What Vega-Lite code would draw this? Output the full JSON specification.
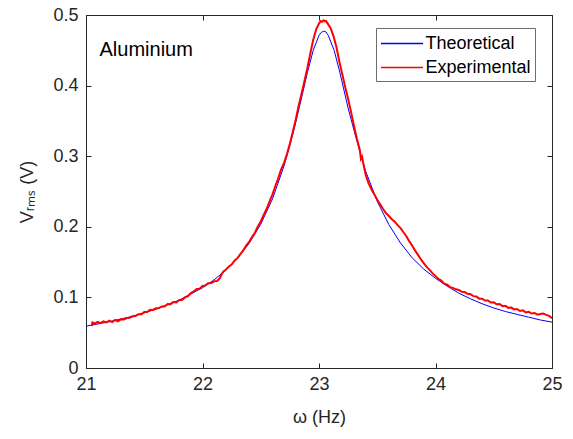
{
  "$schema": "https://vega.github.io/schema/vega-lite/v6.json",
  "width": 466,
  "height": 353,
  "autosize": {"type": "none"},
  "padding": {"left": 86, "top": 15, "right": 21, "bottom": 71},
  "background": "white",
  "config": {
    "view": {"stroke": "#262626", "strokeWidth": 1},
    "font": "Liberation Sans",
    "axis": {
      "grid": false,
      "domainColor": "#262626",
      "tickColor": "#262626",
      "labelColor": "#262626",
      "titleColor": "#262626",
      "labelFont": "Liberation Sans",
      "titleFont": "Liberation Sans",
      "labelFontSize": 18,
      "titleFontSize": 18,
      "titleFontWeight": "normal",
      "tickSize": -5,
      "domainWidth": 1,
      "tickWidth": 1,
      "labelFlush": false,
      "labelOverlap": false
    },
    "legend": {
      "orient": "none",
      "legendX": 290,
      "legendY": 13,
      "strokeColor": "#6e6e6e",
      "fillColor": "white",
      "padding": 4,
      "symbolType": "M-2,0H2",
      "symbolSize": 441,
      "symbolOffset": 10.5,
      "symbolStrokeWidth": 1.5,
      "labelFontSize": 18,
      "labelFont": "Liberation Sans",
      "labelColor": "#000000",
      "labelOffset": 12,
      "rowPadding": 3
    }
  },
  "datasets": {
    "theo": [
      {"f": 21.0, "v": 0.0592}, {"f": 21.2, "v": 0.0655}, {"f": 21.4, "v": 0.0733}, {"f": 21.6, "v": 0.0832},
      {"f": 21.8, "v": 0.0961}, {"f": 22.0, "v": 0.1136}, {"f": 22.1, "v": 0.1249}, {"f": 22.2, "v": 0.1386},
      {"f": 22.3, "v": 0.1554}, {"f": 22.4, "v": 0.1765}, {"f": 22.5, "v": 0.2037}, {"f": 22.6, "v": 0.2392},
      {"f": 22.7, "v": 0.2862}, {"f": 22.75, "v": 0.315}, {"f": 22.8, "v": 0.3474}, {"f": 22.85, "v": 0.3825},
      {"f": 22.9, "v": 0.4181}, {"f": 22.95, "v": 0.4498}, {"f": 23.0, "v": 0.4712}, {"f": 23.02, "v": 0.4755},
      {"f": 23.04, "v": 0.477}, {"f": 23.06, "v": 0.476}, {"f": 23.08, "v": 0.471}, {"f": 23.13, "v": 0.450},
      {"f": 23.18, "v": 0.418}, {"f": 23.25, "v": 0.368}, {"f": 23.3, "v": 0.337}, {"f": 23.35, "v": 0.307},
      {"f": 23.4, "v": 0.279}, {"f": 23.5, "v": 0.236}, {"f": 23.6, "v": 0.203}, {"f": 23.7, "v": 0.177},
      {"f": 23.8, "v": 0.156}, {"f": 23.9, "v": 0.140}, {"f": 24.0, "v": 0.127}, {"f": 24.1, "v": 0.116},
      {"f": 24.2, "v": 0.106}, {"f": 24.3, "v": 0.098}, {"f": 24.4, "v": 0.091}, {"f": 24.5, "v": 0.085},
      {"f": 24.6, "v": 0.080}, {"f": 24.7, "v": 0.076}, {"f": 24.8, "v": 0.072}, {"f": 24.9, "v": 0.068},
      {"f": 25.0, "v": 0.065}
    ],
    "expt": [
      {"f": 21.050, "v": 0.0595}, {"f": 21.055, "v": 0.0645}, {"f": 21.075, "v": 0.0630}, {"f": 21.100, "v": 0.0652},
      {"f": 21.125, "v": 0.0635}, {"f": 21.150, "v": 0.0662}, {"f": 21.175, "v": 0.0645}, {"f": 21.200, "v": 0.0672},
      {"f": 21.225, "v": 0.0650}, {"f": 21.250, "v": 0.0680}, {"f": 21.275, "v": 0.0662}, {"f": 21.300, "v": 0.0692},
      {"f": 21.325, "v": 0.0688}, {"f": 21.350, "v": 0.0708}, {"f": 21.375, "v": 0.0712}, {"f": 21.400, "v": 0.0732},
      {"f": 21.425, "v": 0.0735}, {"f": 21.450, "v": 0.0762}, {"f": 21.475, "v": 0.0760}, {"f": 21.500, "v": 0.0792},
      {"f": 21.525, "v": 0.0792}, {"f": 21.550, "v": 0.0825}, {"f": 21.575, "v": 0.0822}, {"f": 21.600, "v": 0.0846},
      {"f": 21.625, "v": 0.0848}, {"f": 21.650, "v": 0.0872}, {"f": 21.675, "v": 0.0872}, {"f": 21.700, "v": 0.0906},
      {"f": 21.725, "v": 0.0904}, {"f": 21.750, "v": 0.0933}, {"f": 21.775, "v": 0.0928}, {"f": 21.800, "v": 0.0962},
      {"f": 21.825, "v": 0.0962}, {"f": 21.850, "v": 0.1002}, {"f": 21.875, "v": 0.1018}, {"f": 21.900, "v": 0.1062},
      {"f": 21.925, "v": 0.1084}, {"f": 21.950, "v": 0.1118}, {"f": 21.975, "v": 0.1124}, {"f": 22.000, "v": 0.1162},
      {"f": 22.025, "v": 0.1170}, {"f": 22.050, "v": 0.1202}, {"f": 22.075, "v": 0.1205}, {"f": 22.100, "v": 0.1228},
      {"f": 22.125, "v": 0.1232}, {"f": 22.140, "v": 0.1256}, {"f": 22.150, "v": 0.1275}, {"f": 22.165, "v": 0.1330},
      {"f": 22.180, "v": 0.1368}, {"f": 22.200, "v": 0.1392}, {"f": 22.225, "v": 0.1434}, {"f": 22.250, "v": 0.1466},
      {"f": 22.275, "v": 0.1520}, {"f": 22.300, "v": 0.1556}, {"f": 22.325, "v": 0.1614}, {"f": 22.350, "v": 0.1666},
      {"f": 22.375, "v": 0.1734}, {"f": 22.400, "v": 0.1786}, {"f": 22.425, "v": 0.1854}, {"f": 22.450, "v": 0.1916},
      {"f": 22.475, "v": 0.2004}, {"f": 22.500, "v": 0.2076}, {"f": 22.525, "v": 0.2168}, {"f": 22.550, "v": 0.2252},
      {"f": 22.575, "v": 0.2358}, {"f": 22.600, "v": 0.2456}, {"f": 22.625, "v": 0.2578}, {"f": 22.650, "v": 0.2686},
      {"f": 22.675, "v": 0.2812}, {"f": 22.700, "v": 0.2906}, {"f": 22.725, "v": 0.3032}, {"f": 22.750, "v": 0.3176},
      {"f": 22.775, "v": 0.3342}, {"f": 22.800, "v": 0.3516}, {"f": 22.825, "v": 0.3712}, {"f": 22.850, "v": 0.3886},
      {"f": 22.875, "v": 0.4062}, {"f": 22.900, "v": 0.4246}, {"f": 22.925, "v": 0.4452}, {"f": 22.950, "v": 0.4646},
      {"f": 22.975, "v": 0.4792}, {"f": 23.000, "v": 0.4878}, {"f": 23.015, "v": 0.4915}, {"f": 23.025, "v": 0.4905},
      {"f": 23.040, "v": 0.4925}, {"f": 23.050, "v": 0.4910}, {"f": 23.060, "v": 0.4915}, {"f": 23.075, "v": 0.4878},
      {"f": 23.100, "v": 0.4812}, {"f": 23.125, "v": 0.4698}, {"f": 23.150, "v": 0.4542}, {"f": 23.175, "v": 0.4338},
      {"f": 23.200, "v": 0.4162}, {"f": 23.225, "v": 0.3978}, {"f": 23.250, "v": 0.3812}, {"f": 23.275, "v": 0.3628},
      {"f": 23.300, "v": 0.3432}, {"f": 23.325, "v": 0.3248}, {"f": 23.350, "v": 0.3092}, {"f": 23.360, "v": 0.2960},
      {"f": 23.370, "v": 0.2990}, {"f": 23.380, "v": 0.2900}, {"f": 23.400, "v": 0.2742}, {"f": 23.425, "v": 0.2618},
      {"f": 23.450, "v": 0.2532}, {"f": 23.475, "v": 0.2458}, {"f": 23.500, "v": 0.2382}, {"f": 23.525, "v": 0.2318},
      {"f": 23.550, "v": 0.2252}, {"f": 23.575, "v": 0.2193}, {"f": 23.600, "v": 0.2152}, {"f": 23.625, "v": 0.2108},
      {"f": 23.650, "v": 0.2072}, {"f": 23.675, "v": 0.2023}, {"f": 23.700, "v": 0.1982}, {"f": 23.725, "v": 0.1923},
      {"f": 23.750, "v": 0.1867}, {"f": 23.775, "v": 0.1793}, {"f": 23.800, "v": 0.1732}, {"f": 23.825, "v": 0.1663},
      {"f": 23.850, "v": 0.1602}, {"f": 23.875, "v": 0.1538}, {"f": 23.900, "v": 0.1482}, {"f": 23.925, "v": 0.1428},
      {"f": 23.950, "v": 0.1390}, {"f": 23.975, "v": 0.1340}, {"f": 24.000, "v": 0.1305}, {"f": 24.025, "v": 0.1262},
      {"f": 24.050, "v": 0.1240}, {"f": 24.075, "v": 0.1196}, {"f": 24.100, "v": 0.1180}, {"f": 24.125, "v": 0.1146},
      {"f": 24.150, "v": 0.1135}, {"f": 24.175, "v": 0.1114}, {"f": 24.200, "v": 0.1106}, {"f": 24.225, "v": 0.1080},
      {"f": 24.250, "v": 0.1076}, {"f": 24.275, "v": 0.1050}, {"f": 24.300, "v": 0.1046}, {"f": 24.325, "v": 0.1018},
      {"f": 24.350, "v": 0.1012}, {"f": 24.375, "v": 0.0982}, {"f": 24.400, "v": 0.0982}, {"f": 24.425, "v": 0.0955},
      {"f": 24.450, "v": 0.0956}, {"f": 24.475, "v": 0.0928}, {"f": 24.500, "v": 0.0930}, {"f": 24.525, "v": 0.0902},
      {"f": 24.550, "v": 0.0906}, {"f": 24.575, "v": 0.0876}, {"f": 24.600, "v": 0.0882}, {"f": 24.625, "v": 0.0852},
      {"f": 24.650, "v": 0.0856}, {"f": 24.675, "v": 0.0830}, {"f": 24.700, "v": 0.0836}, {"f": 24.725, "v": 0.0808},
      {"f": 24.750, "v": 0.0816}, {"f": 24.775, "v": 0.0788}, {"f": 24.800, "v": 0.0796}, {"f": 24.825, "v": 0.0772},
      {"f": 24.850, "v": 0.0780}, {"f": 24.875, "v": 0.0756}, {"f": 24.900, "v": 0.0766}, {"f": 24.925, "v": 0.0772},
      {"f": 24.950, "v": 0.0752}, {"f": 24.975, "v": 0.0738}, {"f": 25.000, "v": 0.0705}
    ],
    "note": [
      {"f": 21.116, "v": 0.4504, "label": "Aluminium"}
    ]
  },
  "resolve": {"axis": {"x": "independent", "y": "independent"}},
  "layer": [
    {
      "data": {"name": "theo"},
      "mark": {"type": "line", "strokeWidth": 1, "interpolate": "linear"},
      "encoding": {
        "x": {
          "field": "f", "type": "quantitative",
          "scale": {"domain": [21, 25], "nice": false, "zero": false},
          "axis": {"orient": "bottom", "values": [21, 22, 23, 24, 25], "title": "ω (Hz)", "labelPadding": 12, "titlePadding": 15, "format": "d"}
        },
        "y": {
          "field": "v", "type": "quantitative",
          "scale": {"domain": [0, 0.5], "nice": false},
          "axis": {"orient": "left", "values": [0, 0.1, 0.2, 0.3, 0.4, 0.5], "title": "Vᵣₘₛ (V)", "labelPadding": 13, "titlePadding": 16,
                   "labelExpr": "datum.value == 0 ? '0' : format(datum.value, '.1f')"}
        },
        "color": {
          "datum": "Theoretical",
          "scale": {"domain": ["Theoretical", "Experimental"], "range": ["#0000ff", "#ff0000"]},
          "legend": {"title": null}
        }
      }
    },
    {
      "data": {"name": "expt"},
      "mark": {"type": "line", "strokeWidth": 2, "interpolate": "linear"},
      "encoding": {
        "x": {
          "field": "f", "type": "quantitative",
          "axis": {"orient": "top", "values": [21, 22, 23, 24, 25], "labels": false, "title": null, "domain": false}
        },
        "y": {
          "field": "v", "type": "quantitative",
          "axis": {"orient": "right", "values": [0, 0.1, 0.2, 0.3, 0.4, 0.5], "labels": false, "title": null, "domain": false}
        },
        "color": {"datum": "Experimental"}
      }
    },
    {
      "data": {"name": "note"},
      "mark": {"type": "text", "align": "left", "baseline": "middle", "fontSize": 20, "font": "Liberation Sans", "color": "#000000"},
      "encoding": {
        "x": {"field": "f", "type": "quantitative", "axis": null},
        "y": {"field": "v", "type": "quantitative", "axis": null},
        "text": {"field": "label"}
      }
    }
  ]
}
